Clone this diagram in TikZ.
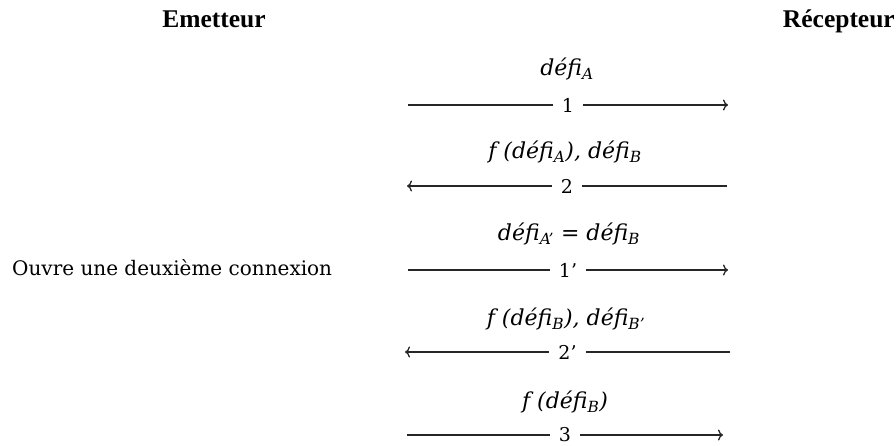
\documentclass[tikz,border=0pt]{standalone}
\usepackage{fontspec}
\setmainfont{DejaVu Serif}
\newfontfamily\hdrfont{Liberation Serif}
\usetikzlibrary{arrows.meta}
\tikzset{
  hdr/.style={font=\hdrfont\bfseries\fontsize{25.5}{30}\selectfont, inner sep=0pt, anchor=base},
  plain/.style={font=\fontsize{20}{24}\selectfont, inner sep=0pt, anchor=base west},
  lab/.style={font=\fontsize{22}{26}\selectfont\itshape, inner sep=0pt, anchor=base},
  num/.style={font=\fontsize{19}{22}\selectfont, fill=white, inner xsep=9pt, inner ysep=2pt},
  msg/.style={line width=1.3pt, draw=black!85, -{To[length=5pt,width=11pt]}}
}
\begin{document}
\begin{tikzpicture}[x=1pt,y=-1pt]
\useasboundingbox (0,0) rectangle (896,445);
% headers
\node[hdr] (em) at (214,27) {Emetteur};
\node[hdr, anchor=base east] (rec) at (895,27) {Récepteur};
% side text
\node[plain] (ouvre) at (12,275) {Ouvre une deuxième connexion};
% end points
\coordinate (a1) at (408,105);  \coordinate (b1) at (728,105);
\coordinate (a2) at (407,186);  \coordinate (b2) at (727,186);
\coordinate (a3) at (408,270);  \coordinate (b3) at (728,270);
\coordinate (a4) at (405,352);  \coordinate (b4) at (730,352);
\coordinate (a5) at (407,435);  \coordinate (b5) at (723,435);
% messages
\draw[msg] (a1) -- node[num] (n1) {1} (b1);
\draw[msg] (b2) -- node[num] (n2) {2} (a2);
\draw[msg] (a3) -- node[num] (n3) {1’} (b3);
\draw[msg] (b4) -- node[num] (n4) {2’} (a4);
\draw[msg] (a5) -- node[num] (n5) {3} (b5);
% labels
\node[lab] (l1) at (567,75) {défi\textsubscript{A}};
\node[lab] (l2) at (565,158) {f (défi\textsubscript{A}), défi\textsubscript{B}};
\node[lab] (l3) at (569,240) {défi\textsubscript{A’} {\upshape=} défi\textsubscript{B}};
\node[lab] (l4) at (566,325) {f (défi\textsubscript{B}), défi\textsubscript{B’}};
\node[lab] (l5) at (565,408) {f (défi\textsubscript{B})};
\end{tikzpicture}
\end{document}
